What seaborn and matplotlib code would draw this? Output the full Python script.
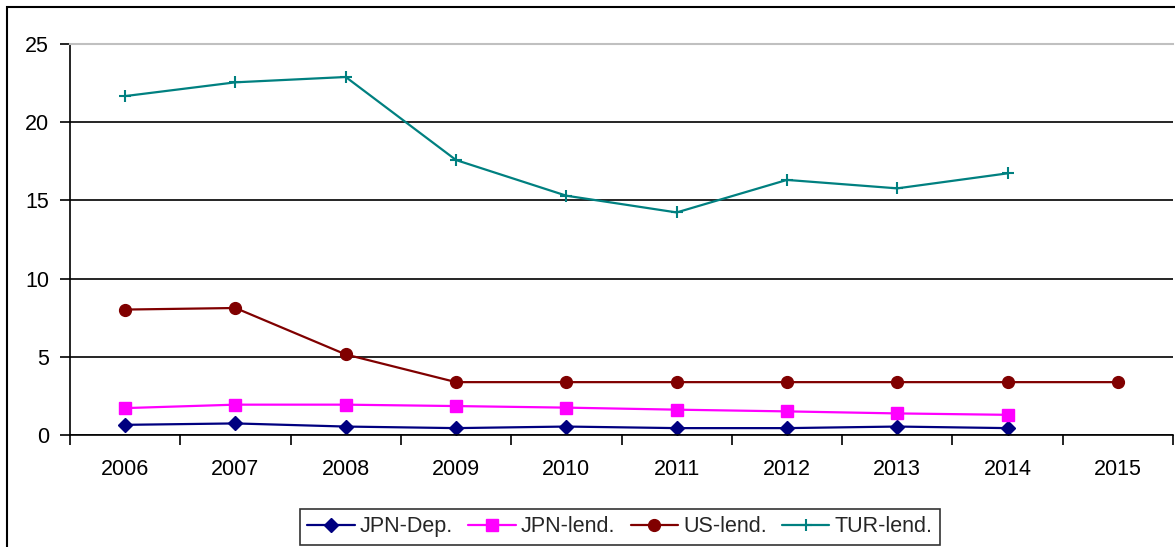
"""
Interest rates chart: JPN deposit / lending, US lending, TUR lending, 2006-2015.
"""

import matplotlib
matplotlib.use("Agg")
import matplotlib.pyplot as plt
import numpy as np
import pandas as pd
import seaborn as sns
from matplotlib.patches import Rectangle

YEARS = ["2006", "2007", "2008", "2009", "2010", "2011", "2012", "2013", "2014", "2015"]

JPN_DEP  = [0.65, 0.74, 0.54, 0.44, 0.54, 0.44, 0.44, 0.54, 0.44, np.nan]
JPN_LEND = [1.72, 1.94, 1.94, 1.85, 1.75, 1.62, 1.51, 1.38, 1.29, np.nan]
US_LEND  = [8.02, 8.12, 5.15, 3.38, 3.38, 3.38, 3.38, 3.38, 3.38, 3.38]
TUR_LEND = [21.67, 22.55, 22.89, 17.58, 15.30, 14.23, 16.31, 15.77, 16.73, np.nan]

SERIES = [
    ("JPN-Dep.",  JPN_DEP,  "#000080", "D", 7.5),
    ("JPN-lend.", JPN_LEND, "#FF00FF", "s", 8.5),
    ("US-lend.",  US_LEND,  "#800000", "o", 8.5),
    ("TUR-lend.", TUR_LEND, "#008080", "+", 9),
]

YTICKS = [0, 5, 10, 15, 20, 25]
FS = 15.5

# ---------------------------------------------------------------------------

sns.set_theme(style="white")
plt.rcParams["font.family"] = ["Liberation Sans", "DejaVu Sans"]

fig = plt.figure(figsize=(11.75, 5.47), dpi=100)
ax = fig.add_axes([70 / 1175, 1 - 435 / 547, 1103 / 1175, 391 / 547])

pos = np.arange(len(YEARS))
for name, vals, color, marker, ms in SERIES:
    df = pd.DataFrame({"x": pos, "y": vals}).dropna()
    sns.lineplot(
        data=df, x="x", y="y", ax=ax,
        color=color, marker=marker, markersize=ms,
        markeredgecolor=color, markeredgewidth=1.5 if marker == "+" else 1,
        linewidth=1.6, label=name, legend=False,
    )

# --- axes ---
ax.set_xlim(-0.5, len(YEARS) - 0.5)
ax.set_ylim(0, 25)
ax.set_xlabel("")
ax.set_ylabel("")

ax.set_xticks(np.arange(-0.5, len(YEARS)), labels=[""] * (len(YEARS) + 1))
ax.set_xticks(pos, labels=YEARS, minor=True)
ax.tick_params(axis="x", which="major", direction="out", length=7, width=1.2,
               color="black", bottom=True)
ax.tick_params(axis="x", which="minor", length=0, pad=17, labelsize=FS,
               labelcolor="black")

ax.set_yticks(YTICKS, labels=[str(v) for v in YTICKS])
ax.tick_params(axis="y", direction="out", length=7, width=1.2, color="black",
               left=True, labelsize=FS, labelcolor="black", pad=8)

ax.yaxis.grid(True, color="black", linewidth=1.2)
ax.xaxis.grid(False)
ax.get_ygridlines()[-1].set_visible(False)
ax.set_axisbelow(True)

for side in ["left", "bottom"]:
    ax.spines[side].set_color("black")
    ax.spines[side].set_linewidth(1.2)
ax.spines["right"].set_visible(False)
ax.spines["top"].set_color("#c0c0c0")
ax.spines["top"].set_linewidth(1.5)

# --- legend ---
handles, labels = ax.get_legend_handles_labels()
leg = fig.legend(
    handles, labels, loc="lower center", bbox_to_anchor=(620 / 1175, 2 / 547),
    ncol=4, frameon=True, fancybox=False, shadow=False, fontsize=FS,
    handlelength=2.2, handletextpad=0.25, columnspacing=0.7, borderpad=0.35,
    borderaxespad=0,
)
leg.get_frame().set_edgecolor("black")
leg.get_frame().set_linewidth(1.2)

# --- chart area border ---
fig.patches.append(Rectangle((7 / 1175, -0.1), 1.2, 1 - 7 / 547 + 0.1,
                             transform=fig.transFigure, fill=False,
                             edgecolor="black", linewidth=1.5))

plt.savefig("out.png", dpi=100)
plt.close()
